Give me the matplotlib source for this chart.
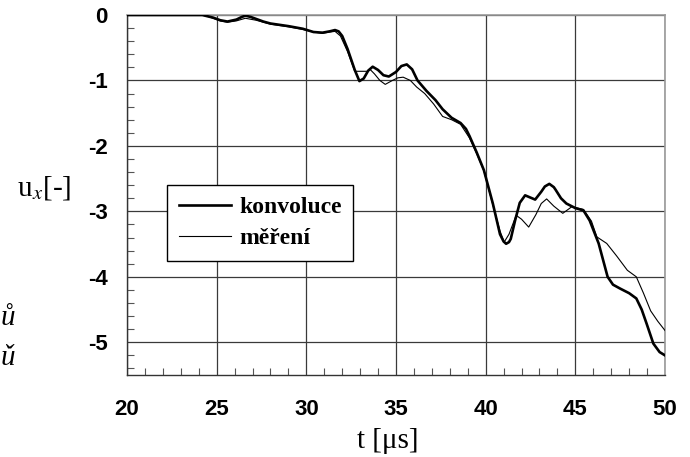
import numpy as np
import matplotlib
matplotlib.use('Agg')
import matplotlib.pyplot as plt
from matplotlib.ticker import MultipleLocator

plt.rcParams['mathtext.fontset'] = 'stix'
plt.rcParams['axes.unicode_minus'] = False

# konvoluce (silna cara)
t_konv = [20, 24.2, 24.5, 24.8, 25.2, 25.6, 26.1, 26.4, 26.6, 26.9, 27.2, 27.6, 28.0, 29.0,
          29.8, 30.4, 30.9, 31.3, 31.6, 31.8, 32.0, 32.3, 32.7, 32.96, 33.2, 33.45, 33.7,
          34.0, 34.3, 34.6, 35.0, 35.3, 35.6, 35.9, 36.2, 36.7, 37.2, 37.6, 38.1, 38.6, 38.9,
          39.1, 39.5, 39.9, 40.4, 40.8, 41.0, 41.14, 41.3, 41.4, 41.64, 41.9, 42.2, 42.5,
          42.76, 43.1, 43.3, 43.55, 43.8, 43.9, 44.2, 44.5, 45.0, 45.45, 45.8, 46.3, 46.8,
          47.1, 47.5, 48.0, 48.4, 48.7, 48.98, 49.35, 49.7, 50]
u_konv = [0, 0, -0.02, -0.04, -0.08, -0.1, -0.07, -0.03, -0.01, -0.03, -0.06, -0.1, -0.13, -0.17,
          -0.21, -0.26, -0.27, -0.25, -0.23, -0.25, -0.32, -0.52, -0.84, -1.01, -0.97, -0.85, -0.79,
          -0.84, -0.92, -0.94, -0.87, -0.78, -0.755, -0.83, -1.0, -1.16, -1.3, -1.44, -1.57, -1.65, -1.74,
          -1.85, -2.1, -2.37, -2.88, -3.35, -3.46, -3.495, -3.47, -3.42, -3.14, -2.87, -2.755, -2.79,
          -2.82, -2.7, -2.62, -2.58, -2.63, -2.67, -2.8, -2.88, -2.95, -2.985, -3.14, -3.49, -4.0,
          -4.12, -4.18, -4.25, -4.33, -4.5, -4.72, -5.02, -5.15, -5.2]

# mereni (tenka cara)
t_mer = [20, 24.2, 24.5, 24.8, 25.2, 25.6, 26.1, 26.6, 27.2, 28.0, 29.0, 29.8, 30.4, 30.9,
         31.3, 31.6, 31.9, 32.3, 32.7, 33.0, 33.4, 33.55, 33.8, 34.1, 34.4, 34.8, 35.1, 35.4,
         35.8, 36.15, 36.6, 37.1, 37.6, 38.1, 38.6, 39.1, 39.5, 39.9, 40.4, 40.8, 41.03,
         41.3, 41.7, 42.0, 42.4, 42.8, 43.1, 43.4, 43.8, 44.3, 44.8, 45.45, 45.9, 46.2,
         46.75, 47.3, 47.9, 48.4, 48.8, 49.2, 49.6, 50]
u_mer = [0, 0, -0.02, -0.05, -0.09, -0.11, -0.09, -0.05, -0.08, -0.14, -0.18, -0.22, -0.26, -0.28,
         -0.26, -0.25, -0.32, -0.56, -0.86, -0.86, -0.86, -0.83, -0.9, -1.0, -1.06, -1.0, -0.96, -0.95,
         -1.0, -1.1, -1.2, -1.36, -1.55, -1.6, -1.67, -1.88, -2.12, -2.38, -2.9, -3.3, -3.47,
         -3.35, -3.06, -3.12, -3.24, -3.05, -2.88, -2.81, -2.92, -3.03, -2.93, -2.97, -3.15, -3.39,
         -3.49, -3.68, -3.9, -4.0, -4.25, -4.52, -4.68, -4.82]

x_ticks = [20, 25, 30, 35, 40, 45, 50]
y_ticks = [0, -1, -2, -3, -4, -5]

fig = plt.figure(figsize=(6.9, 4.57), dpi=100)
ax = fig.add_axes([127/690, 1-375/457, 538/690, 360/457])

ax.plot(t_konv, u_konv, color='black', lw=1.9, label='konvoluce', zorder=3,
        solid_joinstyle='round')
ax.plot(t_mer, u_mer, color='black', lw=0.8, label='měření', zorder=3,
        solid_joinstyle='round')

ax.set_xlim(20, 50)
ax.set_ylim(-5.5, 0)
ax.set_xticks(x_ticks)
ax.set_yticks(y_ticks)
ax.xaxis.set_minor_locator(MultipleLocator(1))
ax.yaxis.set_minor_locator(MultipleLocator(0.2))
ax.tick_params(which='major', length=0)
ax.tick_params(axis='x', which='major', pad=17)
ax.tick_params(axis='y', which='major', pad=14)
ax.tick_params(which='minor', direction='in', length=5, width=0.8, color='#555555')
for lab in ax.get_xticklabels() + ax.get_yticklabels():
    lab.set_family('Liberation Sans')
    lab.set_fontweight('bold')
    lab.set_fontsize(16)

ax.grid(True, which='major', color='#3a3a3a', lw=0.9)
ax.set_axisbelow(True)
for s in ['left', 'bottom']:
    ax.spines[s].set_color('#333333')
    ax.spines[s].set_linewidth(1.0)
for s in ['top', 'right']:
    ax.spines[s].set_color('#999999')
    ax.spines[s].set_linewidth(1.2)

# popisky os
fig.text(388/690, 1-448/457, 't [μs]', family='Liberation Serif', fontsize=21,
         ha='center', va='baseline')
fig.text(44/690, 1-188/457, 'u$_x$[-]', family='Liberation Serif', fontsize=21,
         ha='center', va='center')

leg = ax.legend(loc='upper left', bbox_to_anchor=(40/538, 190/360), borderaxespad=0,
                fancybox=False, edgecolor='black', framealpha=1, handlelength=2.2,
                handletextpad=0.35, borderpad=0.5, labelspacing=0.4,
                prop={'family': 'Liberation Serif', 'weight': 'bold', 'size': 17})
leg.get_frame().set_linewidth(1.0)

# znaky u leveho okraje
fig.text(1/690, 1-318/457, 'ů', family='Liberation Serif', style='italic', fontsize=21,
         ha='left', va='center')
fig.text(1/690, 1-358/457, 'ǔ', family='Liberation Serif', style='italic', fontsize=21,
         ha='left', va='center')

plt.savefig('out.png', dpi=100)
